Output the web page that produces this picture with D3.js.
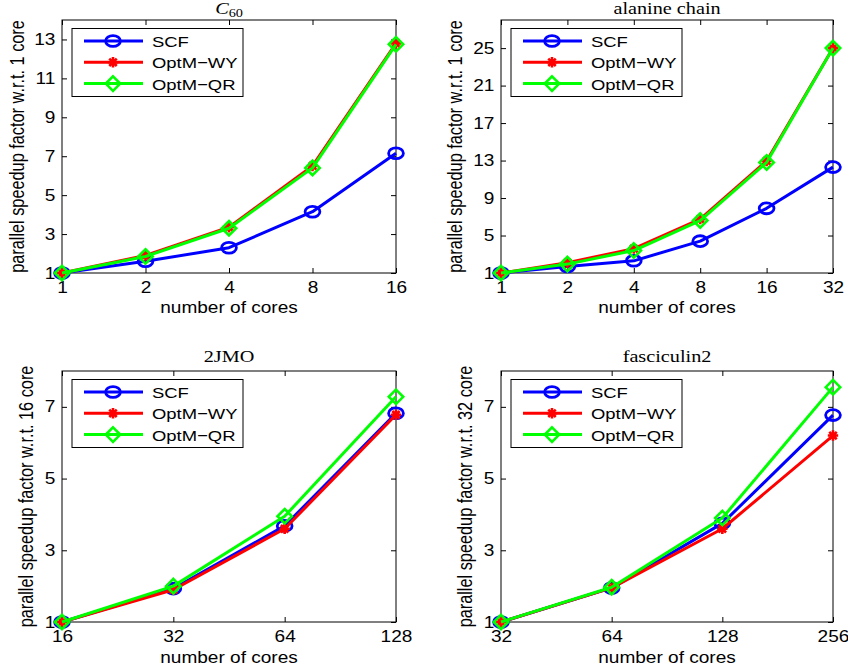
<!DOCTYPE html>
<html>
<head>
<meta charset="utf-8">
<script src="https://cdn.jsdelivr.net/npm/d3@7"></script>
<style>
  body { margin: 0; background: #fff; }
  svg { display: block; }
</style>
</head>
<body>
<script>
// ---- data -------------------------------------------------------------
const seriesNames = ["SCF", "OptM\u2212WY", "OptM\u2212QR"];

// C60, speedup relative to 1 core
const c60Cores = [1, 2, 4, 8, 16];
const c60SCF   = [1, 1.6, 2.3, 4.15, 7.15];
const c60WY    = [1, 1.9, 3.35, 6.5, 12.8];
const c60QR    = [1, 1.85, 3.3, 6.4, 12.75];
const c60YTicks = [1, 3, 5, 7, 9, 11, 13];

// alanine chain, speedup relative to 1 core
const alaCores = [1, 2, 4, 8, 16, 32];
const alaSCF   = [1, 1.7, 2.3, 4.4, 7.9, 12.3];
const alaWY    = [1, 2.1, 3.6, 6.75, 12.95, 25.0];
const alaQR    = [1, 1.95, 3.4, 6.6, 12.8, 25.0];
const alaYTicks = [1, 5, 9, 13, 17, 21, 25];

// 2JMO, speedup relative to 16 cores
const jmoCores = [16, 32, 64, 128];
const jmoSCF   = [1, 1.93, 3.68, 6.82];
const jmoWY    = [1, 1.9, 3.6, 6.78];
const jmoQR    = [1, 2.0, 3.95, 7.28];
const jmoYTicks = [1, 3, 5, 7];

// fasciculin2, speedup relative to 32 cores
const fasCores = [32, 64, 128, 256];
const fasSCF   = [1, 1.95, 3.75, 6.77];
const fasWY    = [1, 1.95, 3.6, 6.2];
const fasQR    = [1, 1.97, 3.9, 7.55];
const fasYTicks = [1, 3, 5, 7];

// ---- styling ------------------------------------------------------------
const W = 848, H = 672;
const SX = 1.19;                       // horizontal stretch of all lettering
const SANS = "'Liberation Sans', Arial, Helvetica, sans-serif";
const SERIF = "'Liberation Serif', 'Times New Roman', serif";
const colors = ["#0000ff", "#ff0000", "#00ff00"];
const markers = ["circle", "asterisk", "diamond"];

const panels = [
  { title: "C60", cores: c60Cores, values: [c60SCF, c60WY, c60QR], yTicks: c60YTicks, yMax: 14,
    ylabel: "parallel speedup factor w.r.t. 1 core",
    x0: 62, x1: 396, y0: 20, y1: 273, ylabX: 24, titleY: 14, xlabY: 313 },
  { title: "alanine chain", cores: alaCores, values: [alaSCF, alaWY, alaQR], yTicks: alaYTicks, yMax: 28,
    ylabel: "parallel speedup factor w.r.t. 1 core",
    x0: 501, x1: 833, y0: 20, y1: 273, ylabX: 462, titleY: 14, xlabY: 313 },
  { title: "2JMO", cores: jmoCores, values: [jmoSCF, jmoWY, jmoQR], yTicks: jmoYTicks, yMax: 8,
    ylabel: "parallel speedup factor w.r.t. 16 core",
    x0: 62, x1: 396, y0: 371, y1: 622, ylabX: 33, titleY: 362, xlabY: 663 },
  { title: "fasciculin2", cores: fasCores, values: [fasSCF, fasWY, fasQR], yTicks: fasYTicks, yMax: 8,
    ylabel: "parallel speedup factor w.r.t. 32 core",
    x0: 501, x1: 833, y0: 371, y1: 622, ylabX: 472, titleY: 362, xlabY: 663 }
];

const svg = d3.select("body").append("svg")
  .attr("width", W).attr("height", H)
  .style("background", "#fff");

function label(g, x, y, str, size, anchor, family) {
  return g.append("text")
    .attr("transform", `translate(${x},${y}) scale(${SX},1)`)
    .attr("text-anchor", anchor)
    .attr("font-size", size)
    .attr("font-family", family)
    .attr("fill", "#000")
    .text(str);
}

function drawMarker(g, type, cx, cy, color) {
  if (type === "circle") {
    g.append("ellipse")
      .attr("cx", cx).attr("cy", cy).attr("rx", 7.4).attr("ry", 5.4)
      .attr("fill", "none").attr("stroke", color).attr("stroke-width", 2.8);
  } else if (type === "diamond") {
    const r = 7.2;
    g.append("path")
      .attr("d", `M${cx},${cy - r}L${cx + r},${cy}L${cx},${cy + r}L${cx - r},${cy}Z`)
      .attr("fill", "none").attr("stroke", color).attr("stroke-width", 2.6)
      .attr("stroke-linejoin", "miter");
  } else {
    const r = 5.2, d = r * 0.72;
    g.append("path")
      .attr("d", `M${cx},${cy - r}V${cy + r}M${cx - r},${cy}H${cx + r}` +
                 `M${cx - d},${cy - d}L${cx + d},${cy + d}M${cx - d},${cy + d}L${cx + d},${cy - d}`)
      .attr("fill", "none").attr("stroke", color).attr("stroke-width", 2.6);
  }
}

panels.forEach(p => {
  const g = svg.append("g");
  const x = d3.scaleLog().base(2)
    .domain([p.cores[0], p.cores[p.cores.length - 1]])
    .range([p.x0, p.x1]);
  const y = d3.scaleLinear().domain([1, p.yMax]).range([p.y1, p.y0]);

  // axes: ticks point inwards on all four sides
  const styleAxis = sel => {
    sel.select(".domain").remove();
    sel.selectAll(".tick line").attr("stroke", "#000").attr("stroke-width", 1);
    sel.attr("font-family", SANS).attr("font-size", 16);
    sel.selectAll(".tick text").attr("fill", "#000");
  };

  const xAxis = g.append("g").attr("transform", `translate(0,${p.y1})`)
    .call(d3.axisBottom(x).tickValues(p.cores).tickFormat(d3.format("d"))
      .tickSizeInner(-5).tickSizeOuter(0).tickPadding(8.6));
  styleAxis(xAxis);
  xAxis.selectAll(".tick text").attr("transform", `scale(${SX},1)`);

  g.append("g").attr("transform", `translate(0,${p.y0})`)
    .call(d3.axisTop(x).tickValues(p.cores).tickFormat("")
      .tickSizeInner(-5).tickSizeOuter(0))
    .call(styleAxis);

  const yAxis = g.append("g").attr("transform", `translate(${p.x0},0)`)
    .call(d3.axisLeft(y).tickValues(p.yTicks).tickFormat(d3.format("d"))
      .tickSizeInner(-5).tickSizeOuter(0).tickPadding(5.6));
  styleAxis(yAxis);
  yAxis.selectAll(".tick text").attr("transform", `scale(${SX},1)`);

  g.append("g").attr("transform", `translate(${p.x1},0)`)
    .call(d3.axisRight(y).tickValues(p.yTicks).tickFormat("")
      .tickSizeInner(-5).tickSizeOuter(0))
    .call(styleAxis);

  g.append("rect")
    .attr("x", p.x0).attr("y", p.y0)
    .attr("width", p.x1 - p.x0).attr("height", p.y1 - p.y0)
    .attr("fill", "none").attr("stroke", "#000").attr("stroke-width", 1);

  // series: line then its markers, in plotting order
  const line = d3.line().x(d => x(d[0])).y(d => y(d[1]));
  p.values.forEach((vals, i) => {
    const pts = p.cores.map((c, k) => [c, vals[k]]);
    g.append("path").datum(pts)
      .attr("d", line)
      .attr("fill", "none").attr("stroke", colors[i])
      .attr("stroke-width", 3).attr("stroke-linejoin", "round");
    pts.forEach(d => drawMarker(g, markers[i], x(d[0]), y(d[1]), colors[i]));
  });

  // legend
  const lx = p.x0 + 10, ly = p.y0 + 8.5;
  const lg = g.append("g");
  lg.append("rect").attr("x", lx).attr("y", ly).attr("width", 171).attr("height", 68)
    .attr("fill", "#fff").attr("stroke", "#000").attr("stroke-width", 1);
  seriesNames.forEach((name, i) => {
    const ry = ly + 12.5 + i * 21.3;
    lg.append("line").attr("x1", lx + 12).attr("x2", lx + 71).attr("y1", ry).attr("y2", ry)
      .attr("stroke", colors[i]).attr("stroke-width", 3);
    drawMarker(lg, markers[i], lx + 41, ry, colors[i]);
    label(lg, lx + 80, ry + 6, name, 15.5, "start", SANS);
  });

  // title
  const cx = (p.x0 + p.x1) / 2;
  if (p.title === "C60") {
    const t = g.append("text")
      .attr("transform", `translate(${cx},${p.titleY}) scale(${SX},1)`)
      .attr("text-anchor", "middle")
      .attr("font-family", SERIF).attr("font-size", 17).attr("fill", "#000");
    t.append("tspan").attr("font-style", "italic").text("C");
    t.append("tspan").attr("font-size", 12).attr("dy", 3).text("60");
  } else {
    label(g, cx, p.titleY, p.title, 17, "middle", SERIF);
  }

  // axis labels
  label(g, cx, p.xlabY, "number of cores", 16, "middle", SANS);
  g.append("text")
    .attr("transform", `translate(${p.ylabX},${(p.y0 + p.y1) / 2}) scale(${SX},1) rotate(-90)`)
    .attr("text-anchor", "middle")
    .attr("font-family", SANS).attr("font-size", 16.3).attr("fill", "#000")
    .text(p.ylabel);
});
</script>
</body>
</html>
